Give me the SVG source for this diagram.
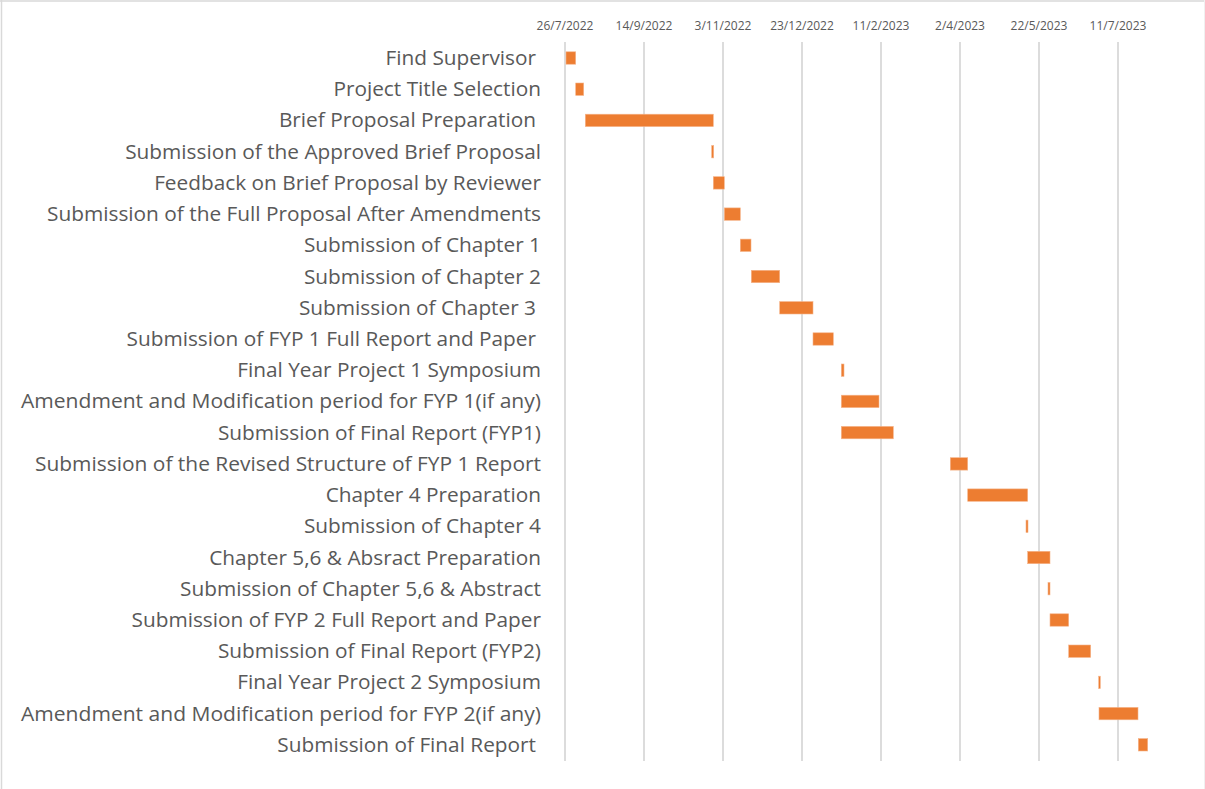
<svg xmlns="http://www.w3.org/2000/svg" width="1205" height="789" viewBox="0 0 1205 789">
<style>
.lbl{font-family:"Open Sans","Liberation Sans",sans-serif;font-size:20.8px;fill:#595959;text-anchor:end}
.dt{font-family:"Open Sans","Liberation Sans",sans-serif;font-size:12px;fill:#595959;text-anchor:middle}
.grid line{stroke:#d9d9d9;stroke-width:1.8}
.bar{fill:#ED7D31;stroke:#F5B48A;stroke-width:0.6}
</style>
<rect x="0" y="0" width="1205" height="789" fill="#ffffff"/>
<line x1="0" y1="1" x2="1205" y2="1" stroke="#d9d9d9" stroke-width="1.5"/>
<line x1="1.5" y1="0" x2="1.5" y2="789" stroke="#d9d9d9" stroke-width="1.5"/>
<line x1="1204.5" y1="0" x2="1204.5" y2="789" stroke="#f0f0f0" stroke-width="1"/>
<g id="axis">
<text class="dt" x="565" y="29.5">26/7/2022</text>
<text class="dt" x="644" y="29.5">14/9/2022</text>
<text class="dt" x="723" y="29.5">3/11/2022</text>
<text class="dt" x="802" y="29.5">23/12/2022</text>
<text class="dt" x="881" y="29.5">11/2/2023</text>
<text class="dt" x="960" y="29.5">2/4/2023</text>
<text class="dt" x="1039" y="29.5">22/5/2023</text>
<text class="dt" x="1118" y="29.5">11/7/2023</text>
</g>
<g id="grid" class="grid">
<line x1="565" y1="42" x2="565" y2="761"/>
<line x1="644" y1="42" x2="644" y2="761"/>
<line x1="723" y1="42" x2="723" y2="761"/>
<line x1="802" y1="42" x2="802" y2="761"/>
<line x1="881" y1="42" x2="881" y2="761"/>
<line x1="960" y1="42" x2="960" y2="761"/>
<line x1="1039" y1="42" x2="1039" y2="761"/>
<line x1="1118" y1="42" x2="1118" y2="761"/>
</g>
<g id="labels">
<text class="lbl" x="536" y="65">Find Supervisor</text>
<text class="lbl" x="541" y="96.2">Project Title Selection</text>
<text class="lbl" x="536" y="127.4">Brief Proposal Preparation</text>
<text class="lbl" x="541" y="158.7">Submission of the Approved Brief Proposal</text>
<text class="lbl" x="541" y="189.9">Feedback on Brief Proposal by Reviewer</text>
<text class="lbl" x="541" y="221.1" textLength="494" lengthAdjust="spacingAndGlyphs">Submission of the Full Proposal After Amendments</text>
<text class="lbl" x="541" y="252.3">Submission of Chapter 1</text>
<text class="lbl" x="541" y="283.5">Submission of Chapter 2</text>
<text class="lbl" x="536" y="314.8">Submission of Chapter 3</text>
<text class="lbl" x="536" y="346">Submission of FYP 1 Full Report and Paper</text>
<text class="lbl" x="541" y="377.2">Final Year Project 1 Symposium</text>
<text class="lbl" x="541" y="408.4" textLength="520" lengthAdjust="spacingAndGlyphs">Amendment and Modification period for FYP 1(if any)</text>
<text class="lbl" x="541" y="439.6">Submission of Final Report (FYP1)</text>
<text class="lbl" x="541" y="470.9" textLength="506" lengthAdjust="spacingAndGlyphs">Submission of the Revised Structure of FYP 1 Report</text>
<text class="lbl" x="541" y="502.1">Chapter 4 Preparation</text>
<text class="lbl" x="541" y="533.3">Submission of Chapter 4</text>
<text class="lbl" x="541" y="564.5">Chapter 5,6 &amp; Absract Preparation</text>
<text class="lbl" x="541" y="595.7">Submission of Chapter 5,6 &amp; Abstract</text>
<text class="lbl" x="541" y="627">Submission of FYP 2 Full Report and Paper</text>
<text class="lbl" x="541" y="658.2">Submission of Final Report (FYP2)</text>
<text class="lbl" x="541" y="689.4">Final Year Project 2 Symposium</text>
<text class="lbl" x="541" y="720.6" textLength="520" lengthAdjust="spacingAndGlyphs">Amendment and Modification period for FYP 2(if any)</text>
<text class="lbl" x="536" y="751.8">Submission of Final Report</text>
</g>
<g id="bars">
<rect class="bar" x="566" y="51.8" width="9.7" height="12.4"/>
<rect class="bar" x="575.7" y="83.0" width="8" height="12.4"/>
<rect class="bar" x="585.3" y="114.2" width="128" height="12.4"/>
<rect class="bar" x="711.7" y="145.5" width="2" height="12.4"/>
<rect class="bar" x="713.3" y="176.7" width="11" height="12.4"/>
<rect class="bar" x="724.3" y="207.9" width="16" height="12.4"/>
<rect class="bar" x="740.3" y="239.1" width="10.7" height="12.4"/>
<rect class="bar" x="751.3" y="270.3" width="28.4" height="12.4"/>
<rect class="bar" x="779.7" y="301.6" width="33.3" height="12.4"/>
<rect class="bar" x="813" y="332.8" width="20.3" height="12.4"/>
<rect class="bar" x="841.3" y="364.0" width="2.7" height="12.4"/>
<rect class="bar" x="841.3" y="395.2" width="37.7" height="12.4"/>
<rect class="bar" x="841.3" y="426.4" width="52" height="12.4"/>
<rect class="bar" x="950.3" y="457.7" width="17.4" height="12.4"/>
<rect class="bar" x="967.7" y="488.9" width="60" height="12.4"/>
<rect class="bar" x="1026" y="520.1" width="2" height="12.4"/>
<rect class="bar" x="1027.7" y="551.3" width="22.3" height="12.4"/>
<rect class="bar" x="1048" y="582.5" width="2" height="12.4"/>
<rect class="bar" x="1050" y="613.8" width="18.7" height="12.4"/>
<rect class="bar" x="1068.7" y="645.0" width="22" height="12.4"/>
<rect class="bar" x="1098.7" y="676.2" width="1.6" height="12.4"/>
<rect class="bar" x="1099" y="707.4" width="39" height="12.4"/>
<rect class="bar" x="1138.3" y="738.6" width="9.4" height="12.4"/>
</g>
</svg>
